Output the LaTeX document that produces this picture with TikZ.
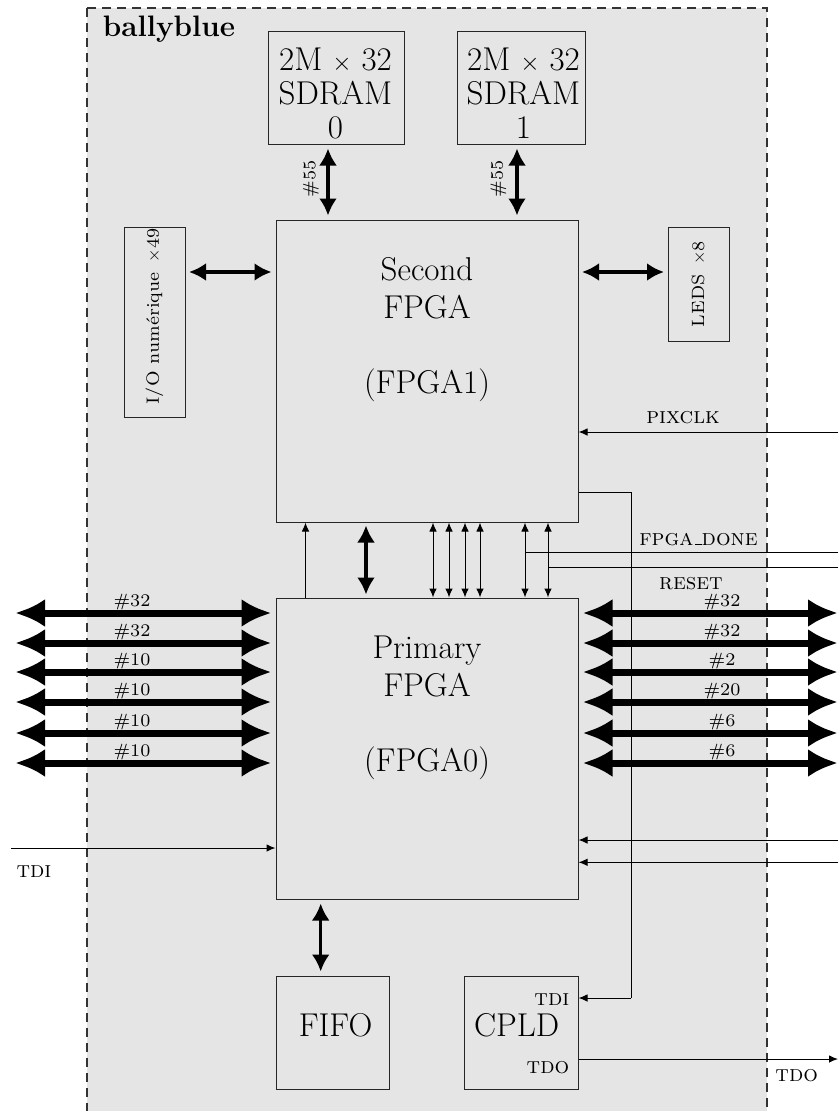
\documentclass[tikz,border=0pt]{standalone}
\usepackage{fontspec}
\usetikzlibrary{arrows.meta}
\newfontfamily\lmseven{lmroman7-regular.otf}
\newcommand{\scunder}{\kern0.06em\vbox{\hrule width 0.3em height 1.2pt}}
\begin{document}
\begin{tikzpicture}[x=1pt,y=-1pt,
  box/.style={draw=black!85, line width=1pt, inner sep=0pt},
  big/.style={font=\fontsize{33}{38}\selectfont, inner sep=0pt, align=center},
  lab/.style={font=\fontsize{17.8}{21}\selectfont\lmseven, inner sep=0pt},
  sclab/.style={font=\fontsize{23}{26}\selectfont\scshape, inner sep=0pt},
  wire/.style={line width=1pt},
  thinarr/.style={line width=1pt, -{Latex[length=9pt,width=7.5pt]}},
  thindbl/.style={line width=1pt, {Latex[length=9pt,width=7.5pt]}-{Latex[length=9pt,width=7.5pt]}},
  mid/.style={line width=3.5pt, {Latex[length=17pt,width=18pt]}-{Latex[length=17pt,width=18pt]}, shorten >=4pt, shorten <=4pt},
  bus/.style={line width=7pt, {Latex[length=30pt,width=28pt]}-{Latex[length=30pt,width=28pt]}}
]
\useasboundingbox (0,0) rectangle (838,1111);
% board
\draw[fill=gray!20, draw=black!80, line width=1.1pt, dash pattern=on 9pt off 6pt] (87,8) rectangle (767,1140);
\node[font=\fontsize{29.6}{34}\selectfont\bfseries, anchor=base west, inner sep=0pt] (title) at (102.7,36) {ballyblue};

% boxes
\node[box, minimum width=136pt, minimum height=113pt] (sd0) at (336,87.5) {};
\node[box, minimum width=128pt, minimum height=113pt] (sd1) at (521,87.5) {};
\node[box, minimum width=302pt, minimum height=302pt] (fpga1) at (427,371) {};
\node[box, minimum width=61pt, minimum height=190pt] (io) at (154.5,322) {};
\node[box, rotate=90, minimum width=114pt, minimum height=61pt, font=\fontsize{17.8}{21}\selectfont\lmseven] (leds) at (698.5,284) {LEDS \,$\times$8};
\node[box, minimum width=302pt, minimum height=301pt] (fpga0) at (427,748.5) {};
\node[box, minimum width=113pt, minimum height=113pt] (fifo) at (332.5,1032.5) {};
\node[box, minimum width=114pt, minimum height=113pt] (cpld) at (521,1032.5) {};

% box texts
\node[big, font=\fontsize{33}{34}\selectfont] (sd0t) at ([xshift=-0.5pt,yshift=-6pt]sd0.center) {2M $\times$ 32\\SDRAM\\0};
\node[big, font=\fontsize{33}{34}\selectfont] (sd1t) at ([xshift=2.5pt,yshift=-6pt]sd1.center) {2M $\times$ 32\\SDRAM\\1};
\node[big] (f1t) at ([yshift=41pt]fpga1.center) {Second\\FPGA\\[37pt](FPGA1)};
\node[big] (f0t) at ([yshift=41pt]fpga0.center) {Primary\\FPGA\\[37pt](FPGA0)};
\node[lab, rotate=90] (iot) at ([yshift=5.5pt]io.center) {I/O numérique \,$\times$49};
\node[big, anchor=base] (fifot) at ([xshift=3pt,yshift=-4pt]fifo.center) {FIFO};
\node[big, anchor=base] (cpldt) at ([xshift=-4.3pt,yshift=-4pt]cpld.center) {CPLD};
\node[sclab, anchor=base east] (cpldtdi) at ([xshift=-9pt,yshift=26.8pt]cpld.east) {tdi};
\node[sclab, anchor=base east] (cpldtdo) at ([xshift=-9pt,yshift=-40.5pt]cpld.east) {tdo};

% column / row helpers
\coordinate (c55a) at (328,0);
\coordinate (c55b) at (517,0);
\coordinate (r272) at (0,272);
\coordinate (cfifo) at (320.7,0);
\coordinate (cmid) at (366,0);
\coordinate (csingle) at (305.5,0);
\coordinate (cd1) at (433,0);
\coordinate (cd2) at (449,0);
\coordinate (cd3) at (465,0);
\coordinate (cd4) at (480,0);
\coordinate (cdone) at (525,0);
\coordinate (creset) at (548,0);

% SDRAM links
\draw[mid] (sd0.south -| c55a) -- (fpga1.north -| c55a);
\draw[mid] (sd1.south -| c55b) -- (fpga1.north -| c55b);
\node[lab, rotate=90] (n55a) at (310.8,178.7) {\#55};
\node[lab, rotate=90] (n55b) at (498.3,178.7) {\#55};

% IO and LEDS
\draw[mid, shorten <=3.5pt, shorten >=4pt] (r272 -| io.east) -- (r272 -| fpga1.west);
\draw[mid, shorten <=3.5pt, shorten >=3.5pt] (r272 -| fpga1.east) -- (r272 -| leds.north);

% PIXCLK
\coordinate (pix) at (838,432);
\draw[thinarr] (pix) -- (pix -| fpga1.east);
\node[sclab, anchor=base] (pixl) at (683,423) {pixclk};

% FPGA1 -> CPLD TDI
\coordinate (jt) at (631,492);
\coordinate (jtdi) at (631,998);
\draw[wire] (jt -| fpga1.east) -- (jt) -- (jtdi);
\draw[thinarr] (jtdi) -- (jtdi -| cpld.east);

% links between FPGAs
\draw[thinarr] (fpga0.north -| csingle) -- (fpga1.south -| csingle);
\draw[mid, shorten >=3pt, shorten <=3pt] (fpga1.south -| cmid) -- (fpga0.north -| cmid);
\foreach \c in {cd1,cd2,cd3,cd4,cdone,creset}
  \draw[thindbl] (fpga1.south -| \c) -- (fpga0.north -| \c);

% FPGA_DONE and RESET
\coordinate (done) at (838,552.5);
\coordinate (reset) at (838,567.7);
\draw[wire] (done) -- (done -| cdone);
\draw[wire] (reset) -- (reset -| creset);
\node[sclab, anchor=base] (donel) at (698.5,545) {fpga\scunder done};
\node[sclab, anchor=base] (resetl) at (691,589) {reset};

% left buses
\foreach \y/\l in {613/32, 643/32, 672/10, 702/10, 733/10, 763/10}{
  \coordinate (L\y) at (15,\y);
  \draw[bus, shorten >=4pt] (L\y) -- (L\y -| fpga0.west);
  \node[lab, anchor=base] (ll\y) at (132,\y-6.7) {\#\l};
}
% right buses
\foreach \y/\l in {613/32, 643/32, 672/2, 702/20, 733/6, 763/6}{
  \coordinate (R\y) at (838,\y);
  \draw[bus, shorten >=4pt] (R\y) -- (R\y -| fpga0.east);
  \node[lab, anchor=base] (rl\y) at (722,\y-6.7) {\#\l};
}

% right inputs to FPGA0
\coordinate (in1) at (838,840);
\coordinate (in2) at (838,862.3);
\draw[thinarr] (in1) -- (in1 -| fpga0.east);
\draw[thinarr] (in2) -- (in2 -| fpga0.east);

% TDI in
\coordinate (tdiL) at (11,848);
\draw[thinarr] (tdiL) -- (tdiL -| fpga0.west);
\node[sclab, anchor=base] (tdil) at (34,877) {tdi};

% FIFO
\draw[mid] (fpga0.south -| cfifo) -- (fifo.north -| cfifo);

% TDO out
\coordinate (tdo) at (838,1059);
\draw[thinarr] (tdo -| cpld.east) -- (tdo);
\node[sclab, anchor=base] (tdol) at (796.7,1081.7) {tdo};
\end{tikzpicture}
\end{document}
